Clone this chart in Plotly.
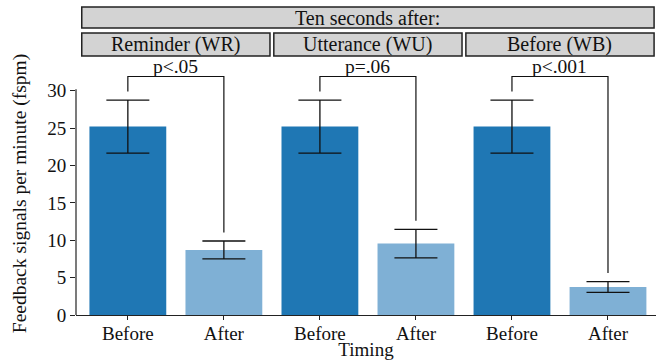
import plotly.graph_objects as go

# ---- data ----
conditions = ["Reminder (WR)", "Utterance (WU)", "Before (WB)"]
super_title = "Ten seconds after:"
timing_labels = ["Before", "After"]
before_means = [25.2, 25.2, 25.2]
before_errs = [3.55, 3.55, 3.55]
after_means = [8.7, 9.55, 3.75]
after_errs = [1.2, 1.9, 0.72]
p_labels = ["p<.05", "p=.06", "p<.001"]
y_ticks = [0, 5, 10, 15, 20, 25, 30]

# ---- style ----
FONT = "Liberation Serif"
DARK = "#1f77b4"
LIGHT = "#7fb0d5"
X_RANGE = [-0.54, 5.5]
Y_RANGE = [0, 32.5]
BRACKET_Y = 31.9
LEG_GAP = 1.15
TXT = "#111"

n = len(conditions)
before_x = [2 * i for i in range(n)]
after_x = [2 * i + 1 for i in range(n)]

fig = go.Figure()
fig.add_trace(go.Bar(
    x=before_x, y=before_means, width=0.8, marker_color=DARK, marker_line_width=0,
    error_y=dict(type="data", array=before_errs, color="#111", thickness=1.3, width=21.5),
    showlegend=False, hoverinfo="skip"))
fig.add_trace(go.Bar(
    x=after_x, y=after_means, width=0.8, marker_color=LIGHT, marker_line_width=0,
    error_y=dict(type="data", array=after_errs, color="#111", thickness=1.3, width=21.5),
    showlegend=False, hoverinfo="skip"))


def xpaper(x):
    return (x - X_RANGE[0]) / (X_RANGE[1] - X_RANGE[0])


shapes = []
annotations = []
# brackets + p-values
for i in range(n):
    bx, ax = before_x[i], after_x[i]
    b_top = before_means[i] + before_errs[i] + LEG_GAP
    a_top = after_means[i] + after_errs[i] + LEG_GAP
    path = f"M {bx},{b_top} L {bx},{BRACKET_Y} L {ax},{BRACKET_Y} L {ax},{a_top}"
    shapes.append(dict(type="path", xref="x", yref="y", path=path,
                       line=dict(color="#111", width=1.2)))
    annotations.append(dict(x=(bx + ax) / 2, y=BRACKET_Y, xref="x", yref="y",
                            text=p_labels[i], showarrow=False, xanchor="center",
                            yanchor="bottom", yshift=-3,
                            font=dict(family=FONT, size=19.5, color=TXT)))

# custom y axis line (stops at top tick)
shapes.append(dict(type="line", xref="paper", yref="y", x0=0, x1=0, y0=0, y1=30.2,
                   line=dict(color="#222", width=1.2)))

# strips
strip_fill = "#d3d3d3"
strip_line = dict(color="#222", width=1.5)
rows = [(1.066, 1.160), (1.181, 1.267)]
for i in range(n):
    x0 = xpaper(2 * i - 0.48)
    x1 = xpaper(2 * i + 1.48)
    shapes.append(dict(type="rect", xref="paper", yref="paper", x0=x0, x1=x1,
                       y0=rows[0][0], y1=rows[0][1], fillcolor=strip_fill, line=strip_line,
                       layer="below"))
    annotations.append(dict(x=(x0 + x1) / 2, y=(rows[0][0] + rows[0][1]) / 2,
                            xref="paper", yref="paper", text=conditions[i], showarrow=False,
                            xanchor="center", yanchor="middle",
                            font=dict(family=FONT, size=20, color=TXT)))
x0 = xpaper(-0.48)
x1 = xpaper(2 * (n - 1) + 1.48)
shapes.append(dict(type="rect", xref="paper", yref="paper", x0=x0, x1=x1,
                   y0=rows[1][0], y1=rows[1][1], fillcolor=strip_fill, line=strip_line,
                   layer="below"))
annotations.append(dict(x=(x0 + x1) / 2, y=(rows[1][0] + rows[1][1]) / 2,
                        xref="paper", yref="paper", text=super_title, showarrow=False,
                        xanchor="center", yanchor="middle",
                        font=dict(family=FONT, size=20, color=TXT)))

fig.update_layout(
    width=656, height=360,
    margin=dict(l=76, r=0, t=72, b=45, autoexpand=False),
    plot_bgcolor="white", paper_bgcolor="white",
    font=dict(family=FONT, size=19, color=TXT),
    shapes=shapes, annotations=annotations,
)
fig.update_xaxes(
    range=X_RANGE, tickvals=before_x + after_x,
    ticktext=[timing_labels[0]] * n + [timing_labels[1]] * n,
    showline=True, linecolor="#222", linewidth=1.2,
    ticks="outside", ticklen=4, tickcolor="#222", tickwidth=1.2,
    showgrid=False, zeroline=False, automargin=False,
    ticklabelstandoff=-3,
    title=dict(text="Timing", standoff=0, font=dict(family=FONT, size=19)),
    tickfont=dict(family=FONT, size=19),
)
fig.update_yaxes(
    range=Y_RANGE, tickvals=y_ticks,
    showline=False, ticks="outside", ticklen=5, tickcolor="#222", tickwidth=1.2,
    showgrid=False, zeroline=False, automargin=False,
    title=dict(text="Feedback signals per minute (fspm)", standoff=15,
               font=dict(family=FONT, size=19.5)),
    tickfont=dict(family=FONT, size=19),
)

fig.write_html("out.html", config={"displayModeBar": False},
               post_script="document.body.style.margin='0px';")
